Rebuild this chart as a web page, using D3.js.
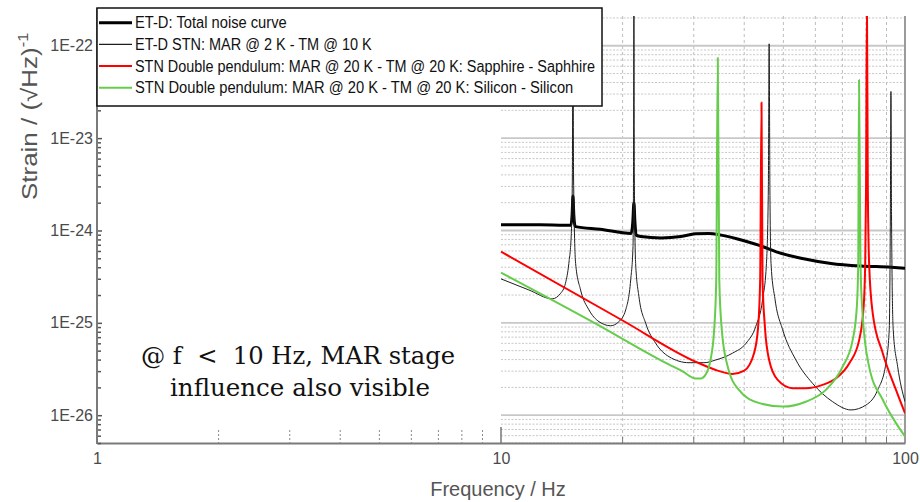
<!DOCTYPE html>
<html>
<head>
<meta charset="utf-8">
<script src="https://cdn.jsdelivr.net/npm/d3@7/dist/d3.min.js"></script>
<style>
  body { margin: 0; background: #fff; }
  svg { display: block; font-family: "Liberation Sans", Arial, sans-serif; }
</style>
</head>
<body>
<svg id="chart" width="920" height="502"></svg>
<script>
// ET-D total noise curve
const totalFreq = [10, 12.5, 14.4, 14.9, 15.0, 15.07, 15.14, 15.25, 15.3, 17.6, 21.0, 21.2, 21.33, 21.45, 21.6, 22.2, 24.9, 27.9, 30.3, 32.7, 38.1, 44.0, 49.3, 55.3, 65.6, 77.8, 92.3, 100];
const totalStrain = [1.15e-24, 1.15e-24, 1.14e-24, 1.14e-24, 1.5e-24, 2.36e-24, 1.5e-24, 1.12e-24, 1.1e-24, 1.03e-24, 9.3e-25, 1.25e-24, 2.0e-24, 1.25e-24, 8.9e-25, 8.6e-25, 8.3e-25, 8.6e-25, 9.2e-25, 9.3e-25, 8.2e-25, 6.8e-25, 5.66e-25, 5.0e-25, 4.4e-25, 4.13e-25, 4.0e-25, 3.9e-25];

// ET-D STN: MAR @ 2 K - TM @ 10 K
const stnFreq = [10, 11.72, 13.39, 14.05, 14.44, 14.72, 14.93, 15.02, 15.07, 15.12, 15.30, 15.74, 16.51, 17.48, 18.68, 19.58, 20.35, 20.94, 21.22, 21.28, 21.33, 21.38, 21.54, 21.95, 22.81, 24.15, 26.05, 29.2, 31.8, 34.0, 37.4, 40.4, 42.7, 44.4, 45.4, 45.9, 46.1, 46.3, 46.6, 47.7, 49.8, 53.7, 59.0, 66.2, 73.5, 80.1, 85.6, 89.7, 91.4, 92.0, 92.3, 92.6, 93.5, 95.9, 100];
const stnStrain = [2.99e-25, 2.27e-25, 1.82e-25, 2.09e-25, 2.68e-25, 4.4e-25, 9.3e-25, 4e-24, 3e-22, 4e-24, 4.4e-25, 2.27e-25, 1.38e-25, 1.03e-25, 9.3e-26, 1.03e-25, 1.38e-25, 2.91e-25, 6.7e-25, 4e-24, 3e-22, 4e-24, 4.4e-25, 1.92e-25, 9.9e-26, 6.0e-26, 4.3e-26, 3.7e-26, 3.7e-26, 3.96e-26, 4.69e-26, 6.0e-26, 9.1e-26, 1.77e-25, 4.4e-25, 3e-24, 1.05e-22, 3e-24, 4.4e-25, 1.77e-25, 8.4e-26, 3.96e-26, 2.22e-26, 1.4e-26, 1.14e-26, 1.29e-26, 1.88e-26, 3.65e-26, 8.4e-26, 1.5e-24, 3.2e-23, 1.5e-24, 8.4e-26, 3.36e-26, 1.4e-26];

// STN double pendulum: Sapphire - Saphhire
const sapphireFreq = [10, 20, 30.3, 34.0, 37.4, 40.0, 42.3, 43.3, 43.8, 44.14, 44.4, 45.0, 46.1, 48.4, 52.7, 56.8, 62.5, 67.5, 72.8, 77.0, 79.0, 79.7, 80.1, 80.5, 80.9, 81.5, 83.2, 88.1, 95.0, 100];
const sapphireStrain = [5.9e-25, 1.06e-25, 3.8e-26, 3.09e-26, 2.8e-26, 3.04e-26, 4.69e-26, 9.1e-26, 2.9e-25, 2.43e-23, 2.9e-25, 9.1e-26, 3.96e-26, 2.41e-26, 1.96e-26, 1.96e-26, 2.13e-26, 2.51e-26, 3.65e-26, 6.5e-26, 1.5e-25, 4.4e-25, 3e-24, 3e-22, 3e-24, 4.4e-25, 1.27e-25, 4.69e-26, 1.88e-26, 1.05e-26];

// STN double pendulum: Silicon - Silicon
const siliconFreq = [10, 17.15, 26.0, 28.1, 30.3, 31.3, 32.1, 33.0, 33.7, 34.1, 34.4, 34.7, 35.2, 36.4, 38.8, 43.6, 49.8, 56.8, 63.7, 70.1, 74.2, 76.0, 76.6, 76.95, 77.6, 78.5, 81.5, 88.1, 95.0, 100];
const siliconStrain = [3.49e-25, 9.8e-26, 3.55e-26, 3.0e-26, 2.5e-26, 2.5e-26, 2.75e-26, 3.96e-26, 8.4e-26, 2.9e-25, 7.4e-23, 2.9e-25, 8.4e-26, 3.36e-26, 1.88e-26, 1.35e-26, 1.24e-26, 1.4e-26, 1.88e-26, 3.36e-26, 6.5e-26, 1.5e-25, 4.4e-25, 4.27e-23, 4.4e-25, 1.27e-25, 3.36e-26, 1.47e-26, 8.2e-27, 5.9e-27];

const legendLabels = [
  "ET-D: Total noise curve",
  "ET-D STN: MAR @ 2 K - TM @ 10 K",
  "STN Double pendulum: MAR @ 20 K - TM @ 20 K: Sapphire - Saphhire",
  "STN Double pendulum: MAR @ 20 K - TM @ 20 K: Silicon - Silicon"
];
const xTicks = [1, 10, 100];
const yTicks = [1e-26, 1e-25, 1e-24, 1e-23, 1e-22];
const yTickLabels = ["1E-26", "1E-25", "1E-24", "1E-23", "1E-22"];
const noteLines = ["@ f  <  10 Hz, MAR stage", "influence also visible"];

const width = 920, height = 502;
const margin = { top: 16, right: 15, bottom: 59, left: 97 };

const xScale = d3.scaleLog().domain([1, 100]).range([margin.left, width - margin.right]);
const yScale = d3.scaleLog().domain([5e-27, 2.1e-22]).range([height - margin.bottom, margin.top]);
const yBottom = height - margin.bottom;

const svg = d3.select("#chart");

// minor values for grid / ticks
const yMinor = [];
for (let e = -27; e <= -22; e++) {
  for (let m = 1; m <= 9; m++) {
    const v = m * Math.pow(10, e);
    if (v >= 5e-27 && v <= 2.1e-22) yMinor.push(v);
  }
}
const xMinorLeft = d3.range(2, 10);
const xMinorRight = d3.range(20, 100, 10);

// grid only covers the 10..100 Hz decade
const grid = svg.append("g");
grid.selectAll(".hminor")
  .data(yMinor.filter(v => !yTicks.some(t => Math.abs(t - v) / t < 1e-6)))
  .enter().append("line")
  .attr("x1", xScale(10)).attr("x2", xScale(100))
  .attr("y1", d => yScale(d)).attr("y2", d => yScale(d))
  .attr("stroke", "#c8c8c8").attr("stroke-width", 1)
  .attr("stroke-dasharray", "2,1.5");
grid.selectAll(".vminor")
  .data(xMinorRight)
  .enter().append("line")
  .attr("x1", d => xScale(d)).attr("x2", d => xScale(d))
  .attr("y1", margin.top).attr("y2", yBottom)
  .attr("stroke", "#bdbdbd").attr("stroke-width", 1)
  .attr("stroke-dasharray", "3,3");
grid.selectAll(".hmajor")
  .data(yTicks.filter(v => v > 5e-27 && v < 2.1e-22))
  .enter().append("line")
  .attr("x1", xScale(10)).attr("x2", xScale(100))
  .attr("y1", d => yScale(d)).attr("y2", d => yScale(d))
  .attr("stroke", "#c8c8c8").attr("stroke-width", 1.8);
grid.append("line")
  .attr("x1", xScale(100)).attr("x2", xScale(100))
  .attr("y1", margin.top).attr("y2", yBottom)
  .attr("stroke", "#9a9a9a").attr("stroke-width", 2);

// curves
svg.append("clipPath").attr("id", "plotClip")
  .append("rect")
  .attr("x", margin.left).attr("y", margin.top)
  .attr("width", xScale(100) - margin.left).attr("height", yBottom - margin.top);

const line = d3.line()
  .x(d => xScale(d[0]))
  .y(d => yScale(d[1]))
  .curve(d3.curveMonotoneX);

const series = [
  { f: totalFreq, s: totalStrain, color: "#000000", w: 3 },
  { f: stnFreq, s: stnStrain, color: "#1e1e1e", w: 1 },
  { f: sapphireFreq, s: sapphireStrain, color: "#ff0000", w: 2 },
  { f: siliconFreq, s: siliconStrain, color: "#66cc4c", w: 2 }
];

svg.append("g").attr("clip-path", "url(#plotClip)")
  .selectAll("path")
  .data(series)
  .enter().append("path")
  .attr("fill", "none")
  .attr("stroke", d => d.color)
  .attr("stroke-width", d => d.w)
  .attr("stroke-linejoin", "round")
  .attr("d", d => line(d.f.map((f, i) => [f, d.s[i]])));

// x axis
const xAxis = d3.axisBottom(xScale)
  .tickValues(xTicks)
  .tickFormat(d3.format("d"))
  .tickSize(0)
  .tickPadding(10);
const xAxisGroup = svg.append("g")
  .attr("transform", `translate(0,${yBottom})`)
  .call(xAxis);
xAxisGroup.select(".domain").attr("stroke", "#7a7a7a").attr("stroke-width", 2);
xAxisGroup.selectAll("text")
  .attr("fill", "#4a4a4a")
  .attr("font-size", "16px")
  .attr("font-family", "Liberation Sans, Arial, sans-serif");

svg.append("g").selectAll("line")
  .data(xMinorLeft)
  .enter().append("line")
  .attr("x1", d => xScale(d)).attr("x2", d => xScale(d))
  .attr("y1", yBottom - 13).attr("y2", yBottom)
  .attr("stroke", "#8a8a8a").attr("stroke-width", 1)
  .attr("stroke-dasharray", "2,2");
svg.append("g").selectAll("line")
  .data(xMinorRight)
  .enter().append("line")
  .attr("x1", d => xScale(d)).attr("x2", d => xScale(d))
  .attr("y1", yBottom - 6).attr("y2", yBottom)
  .attr("stroke", "#777").attr("stroke-width", 1);
svg.append("line")
  .attr("x1", xScale(10)).attr("x2", xScale(10))
  .attr("y1", yBottom - 16).attr("y2", yBottom)
  .attr("stroke", "#777").attr("stroke-width", 1.5);

// y axis
const yAxis = d3.axisLeft(yScale)
  .tickValues(yTicks)
  .tickFormat((d, i) => yTickLabels[i])
  .tickSizeInner(-5)
  .tickSizeOuter(0)
  .tickPadding(4);
const yAxisGroup = svg.append("g")
  .attr("transform", `translate(${margin.left},0)`)
  .call(yAxis);
yAxisGroup.select(".domain").remove();
yAxisGroup.selectAll("line").attr("stroke", "#555").attr("stroke-width", 1.5);
yAxisGroup.selectAll("text")
  .attr("fill", "#4a4a4a")
  .attr("font-size", "16px")
  .attr("font-family", "Liberation Sans, Arial, sans-serif");

const yMinorAxis = d3.axisLeft(yScale)
  .tickValues(yMinor.filter(v => !yTicks.includes(v)))
  .tickFormat("")
  .tickSizeInner(-4)
  .tickSizeOuter(0);
const yMinorGroup = svg.append("g")
  .attr("transform", `translate(${margin.left},0)`)
  .call(yMinorAxis);
yMinorGroup.select(".domain").remove();
yMinorGroup.selectAll("line").attr("stroke", "#555").attr("stroke-width", 1.5);

svg.append("line")
  .attr("x1", margin.left).attr("x2", margin.left)
  .attr("y1", 8).attr("y2", yBottom + 1)
  .attr("stroke", "#7a7a7a").attr("stroke-width", 2);

// axis titles
svg.append("text")
  .attr("x", 498).attr("y", 496)
  .attr("text-anchor", "middle")
  .attr("font-size", "20px")
  .attr("fill", "#555")
  .text("Frequency / Hz");

const yTitle = svg.append("text")
  .attr("transform", "translate(37,200) rotate(-90) scale(1.18,1)")
  .attr("font-size", "22px")
  .attr("fill", "#555");
yTitle.append("tspan").text("Strain / (\u221AHz)");
yTitle.append("tspan").attr("dy", -9).attr("font-size", "14px").text("-1");

// annotation
const note = svg.append("g")
  .attr("font-family", "'DejaVu Serif', 'Liberation Serif', serif")
  .attr("font-size", "23.5px")
  .attr("fill", "#111");
note.append("text")
  .attr("x", 141).attr("y", 364)
  .attr("textLength", 314).attr("lengthAdjust", "spacingAndGlyphs")
  .style("white-space", "pre")
  .text(noteLines[0]);
note.append("text")
  .attr("x", 170).attr("y", 396)
  .attr("textLength", 260).attr("lengthAdjust", "spacingAndGlyphs")
  .text(noteLines[1]);

// legend
const legend = svg.append("g");
legend.append("rect")
  .attr("x", margin.left).attr("y", 8)
  .attr("width", 602 - margin.left).attr("height", 98)
  .attr("fill", "#fff").attr("stroke", "#111").attr("stroke-width", 1.5);
const legendLens = [151.7, 236.7, 460, 438.3];
const rows = legend.selectAll(".row")
  .data(series)
  .enter().append("g")
  .attr("transform", (d, i) => `translate(0,${28.3 + i * 21.7})`);
rows.append("line")
  .attr("x1", 99).attr("x2", 132)
  .attr("y1", -5.6).attr("y2", -5.6)
  .attr("stroke", d => d.color)
  .attr("stroke-width", d => d.w === 1 ? 1.2 : d.w);
rows.append("text")
  .attr("x", 135)
  .attr("font-size", "16px")
  .attr("fill", "#111")
  .attr("textLength", (d, i) => legendLens[i])
  .attr("lengthAdjust", "spacingAndGlyphs")
  .text((d, i) => legendLabels[i]);
</script>
</body>
</html>
